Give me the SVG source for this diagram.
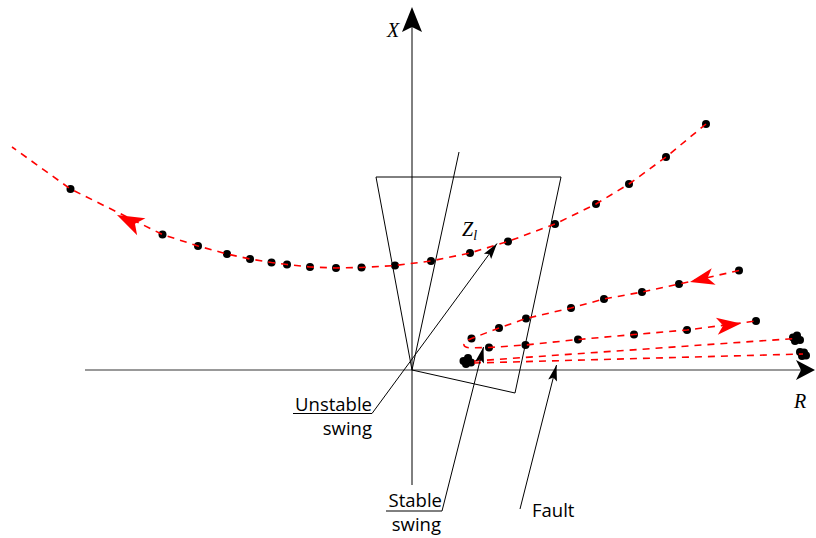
<svg xmlns="http://www.w3.org/2000/svg" xmlns:xlink="http://www.w3.org/1999/xlink" width="816" height="538" viewBox="0 0 816 538">
<style>
.ln{stroke:#000;stroke-width:1;fill:none}
.ax{stroke:#777;stroke-width:1.6;fill:none}
.tr{stroke:#f00;stroke-width:1.6;fill:none;stroke-dasharray:7 6}
.dot{fill:#000}
.sans{font-family:"Open Sans","Noto Sans","Liberation Sans",sans-serif;font-size:18.5px;fill:#000}
.it{font-family:"Liberation Serif","Times New Roman",serif;font-style:italic;fill:#000}
</style>
<defs>
<path id="rah" d="M0,0 L-27,-9.5 L-20,0 L-27,9.5 Z" fill="#f00"/>
<path id="bah" d="M0,0 L-16,-4.5 L-13,0 L-16,4.5 Z" fill="#000"/>
</defs>
<rect width="816" height="538" fill="#fff"/>

<g id="axes">
<line class="ax" x1="85" y1="370" x2="802" y2="370"/>
<path d="M815,370 L796,360 L801,370 L796,380 Z" fill="#000"/>
<line class="ln" x1="412" y1="20" x2="412" y2="485"/>
<path d="M412,7 L422,32 L412,27 L402,32 Z" fill="#000"/>
<text class="it" x="387" y="37" font-size="20">X</text>
<text class="it" x="794" y="408" font-size="20">R</text>
</g>

<g id="characteristic">
<polygon class="ln" points="376,177 561,177 515,393 412,370"/>
<line class="ln" x1="412" y1="370" x2="459" y2="152"/>
</g>

<g id="dots">
<circle class="dot" cx="706" cy="124" r="4"/>
<circle class="dot" cx="666" cy="157" r="4"/>
<circle class="dot" cx="629" cy="184" r="4"/>
<circle class="dot" cx="596" cy="204" r="4"/>
<circle class="dot" cx="555" cy="224" r="4"/>
<circle class="dot" cx="508" cy="241.5" r="4"/>
<circle class="dot" cx="470" cy="253" r="4"/>
<circle class="dot" cx="431" cy="261" r="4"/>
<circle class="dot" cx="395" cy="265.5" r="4"/>
<circle class="dot" cx="361.5" cy="267.5" r="4"/>
<circle class="dot" cx="336" cy="268" r="4"/>
<circle class="dot" cx="310" cy="267" r="4"/>
<circle class="dot" cx="287" cy="264.5" r="4"/>
<circle class="dot" cx="271.5" cy="262.5" r="4"/>
<circle class="dot" cx="250" cy="259" r="4"/>
<circle class="dot" cx="227" cy="254" r="4"/>
<circle class="dot" cx="198" cy="246" r="4"/>
<circle class="dot" cx="162.5" cy="234.5" r="4"/>
<circle class="dot" cx="70.5" cy="189" r="4"/>

<circle class="dot" cx="739" cy="270.5" r="4"/>
<circle class="dot" cx="679" cy="284" r="4"/>
<circle class="dot" cx="642" cy="292" r="4"/>
<circle class="dot" cx="604" cy="299" r="4"/>
<circle class="dot" cx="571" cy="308" r="4"/>
<circle class="dot" cx="526" cy="318.5" r="4"/>
<circle class="dot" cx="499" cy="328" r="4"/>
<circle class="dot" cx="471.5" cy="338.5" r="4"/>

<circle class="dot" cx="489" cy="347.5" r="4"/>
<circle class="dot" cx="525.5" cy="345" r="4"/>
<circle class="dot" cx="578" cy="339.5" r="4"/>
<circle class="dot" cx="634" cy="334.5" r="4"/>
<circle class="dot" cx="687" cy="330" r="4"/>
<circle class="dot" cx="756" cy="321" r="4"/>

<circle class="dot" cx="463.5" cy="361" r="4"/>
<circle class="dot" cx="468" cy="358" r="4"/>
<circle class="dot" cx="471" cy="362.5" r="4"/>
<circle class="dot" cx="466" cy="364" r="4"/>

<circle class="dot" cx="793" cy="337.5" r="4"/>
<circle class="dot" cx="797" cy="335.5" r="4"/>
<circle class="dot" cx="800" cy="340" r="4"/>
<circle class="dot" cx="795" cy="341" r="4"/>

<circle class="dot" cx="800" cy="352" r="4"/>
<circle class="dot" cx="804" cy="352.5" r="4"/>
<circle class="dot" cx="802" cy="356" r="4"/>
<circle class="dot" cx="806" cy="355.5" r="4"/>
</g>

<g id="trajectories">
<polyline class="tr" points="706,124 666,157 629,184 596,204 555,224 508,241.5 470,253 431,261 395,265.5 361.5,267.5 336,268 310,267 287,264.5 271.5,262.5 250,259 227,254 198,246 162.5,234.5 70.5,189 12,147"/>
<path class="tr" d="M739,270.5 L679,284 L642,292 L604,299 L571,308 L526,318.5 L499,328 L471.5,338.5 C462,342 461,348 471,347.8 L489,347.5 L525.5,345 L578,339.5 L634,334.5 L687,330 L756,321"/>
<line class="tr" x1="474" y1="361" x2="795" y2="338.5"/>
<line class="tr" x1="474" y1="363" x2="803" y2="354"/>
<use xlink:href="#rah" transform="translate(117,215) rotate(206)"/>
<use xlink:href="#rah" transform="translate(690,282) rotate(167) scale(0.9)"/>
<use xlink:href="#rah" transform="translate(741,323.5) rotate(-6.6) scale(0.9)"/>
</g>

<g id="connectors">
<polyline class="ln" points="293,413.5 372,413.5 497,243.5"/>
<use xlink:href="#bah" transform="translate(497,243.5) rotate(-53.7)"/>
<polyline class="ln" points="386,511 442,511 483.5,347"/>
<use xlink:href="#bah" transform="translate(483.5,347) rotate(-75.8)"/>
<line class="ln" x1="520" y1="509" x2="556.5" y2="365"/>
<use xlink:href="#bah" transform="translate(556.5,365) rotate(-75.8)"/>
</g>

<g id="labels">
<text class="it" x="462" y="236" font-size="20">Z<tspan font-size="14" dy="4">l</tspan></text>
<text class="sans" x="372" y="411" text-anchor="end">Unstable</text>
<text class="sans" x="372" y="435" text-anchor="end">swing</text>
<text class="sans" x="442" y="507" text-anchor="end">Stable</text>
<text class="sans" x="441" y="531" text-anchor="end">swing</text>
<text class="sans" x="532" y="517">Fault</text>
</g>
</svg>
